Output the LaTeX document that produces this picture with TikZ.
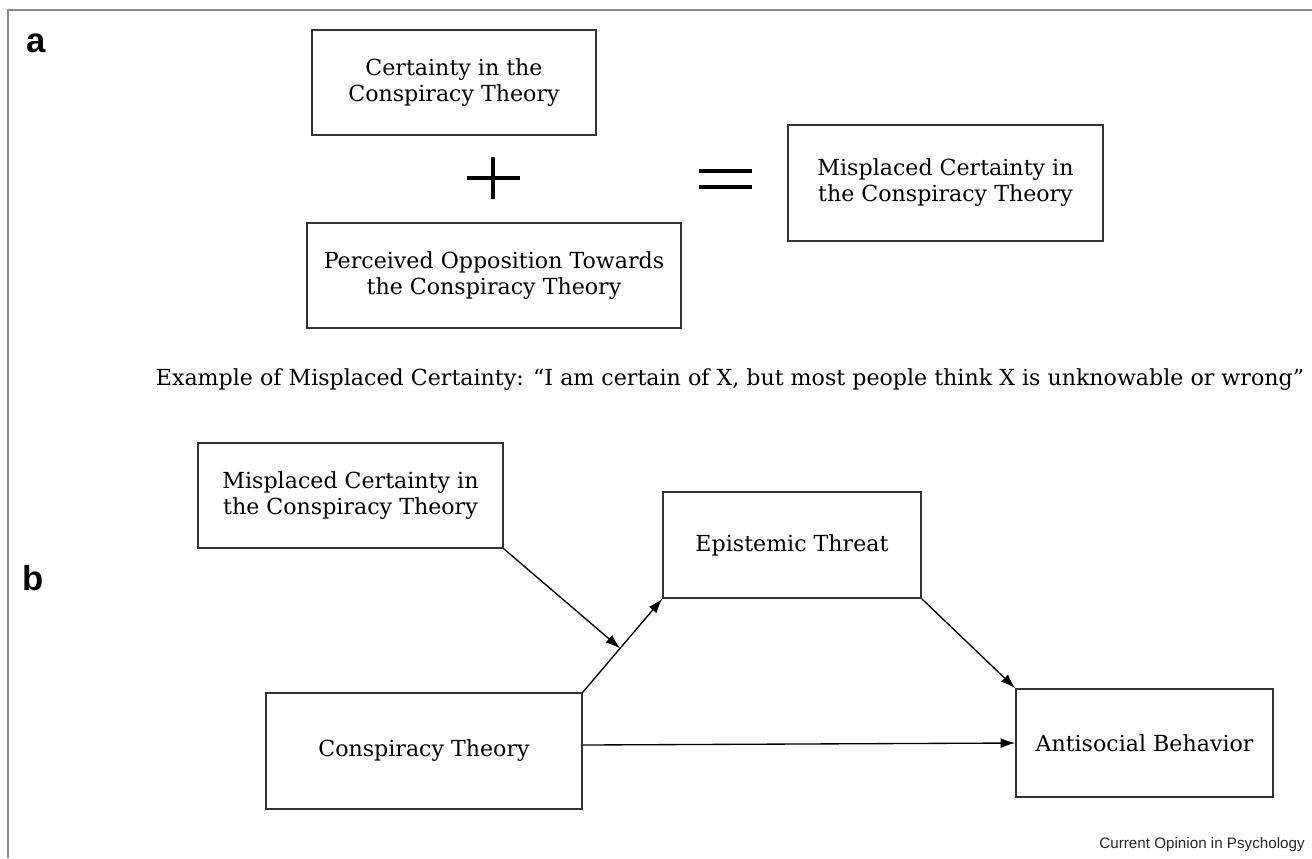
\documentclass[tikz,border=0pt]{standalone}
\usepackage{fontspec}
\setmainfont{DejaVu Serif}
\newfontfamily\arialfont{Liberation Sans}
\usepackage{tikz}
\usetikzlibrary{calc,arrows.meta,positioning}
\definecolor{boxgrey}{gray}{0.2}
\definecolor{framegrey}{gray}{0.55}
\begin{document}
\begin{tikzpicture}[x=0.75pt,y=-0.75pt,>={Latex[length=11pt,width=7.5pt]}]

\tikzset{boxnode/.style={draw=boxgrey,line width=1.1pt,align=center,inner sep=0pt,font=\fontsize{16.6}{19.5}\selectfont},
panelnode/.style={font=\arialfont\bfseries\fontsize{26}{26}\selectfont,inner sep=0pt},
signline/.style={line width=2.4pt},
pathline/.style={line width=1pt,->}}

% Frame
\useasboundingbox (0,0) rectangle (1312,858);
\draw[framegrey,line width=1.5pt] (8,858) -- (8,10) -- (1312,10);

% Panel labels
\node[panelnode] (la) at (36,43) {a};
\node[panelnode] (lb) at (33,578) {b};

% Panel a nodes
\node[boxnode,minimum width=213pt,minimum height=78.75pt] (cert) at (454,82.5) {Certainty in the\\Conspiracy Theory};
\node[boxnode,minimum width=280.5pt,minimum height=78.75pt] (oppo) at (494,275.5) {Perceived Opposition Towards\\the Conspiracy Theory};
\node[boxnode,minimum width=236.25pt,minimum height=87pt] (misc) at (945.5,183) {Misplaced Certainty in\\the Conspiracy Theory};

% plus and equals
\draw[signline] (467,178) -- (520,178) (493,157) -- (493,199);
\draw[signline,line width=3pt] (699,171) -- (752,171) (699,187) -- (752,187);

% Example
\node[font=\fontsize{16.6}{18}\selectfont,inner sep=0pt] (example) at (730,380) {Example of Misplaced Certainty: “I am certain of X, but most people think X is unknowable or wrong”};

% Panel b nodes
\node[boxnode,minimum width=228.75pt,minimum height=78.75pt] (mcb) at (350.5,495.5) {Misplaced Certainty in\\the Conspiracy Theory};
\node[boxnode,minimum width=193.5pt,minimum height=79.5pt] (threat) at (792,545) {Epistemic Threat};
\node[boxnode,minimum width=237pt,minimum height=87pt] (ct) at (424,751) {Conspiracy Theory};
\node[boxnode,minimum width=192.75pt,minimum height=81pt] (anti) at (1144.5,743) {Antisocial Behavior};

% Paths
\coordinate (mod) at ($(ct.north east)!0.47!(threat.south west)$);
\draw[pathline] (ct.north east) -- (threat.south west);
\draw[pathline] (mcb.south east) -- (mod);
\draw[pathline] (threat.south east) -- (anti.north west);
\draw[pathline] ([yshift=4.5pt]ct.east) -- (anti.west);

% Source
\node[font=\arialfont\fontsize{11.4}{12}\selectfont,anchor=east,text=black!85,inner sep=0pt] (source) at (1305,845) {Current Opinion in Psychology};

\end{tikzpicture}
\end{document}
